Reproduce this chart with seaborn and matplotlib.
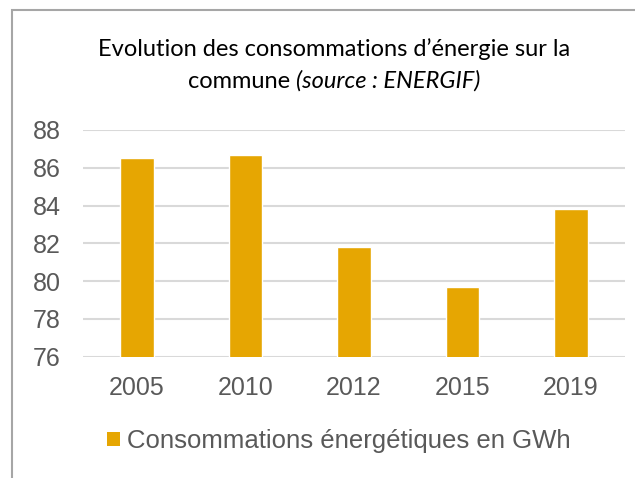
import matplotlib
matplotlib.use("Agg")
import matplotlib.pyplot as plt
from matplotlib.patches import Rectangle, Patch
import seaborn as sns
import pandas as pd

years = ["2005", "2010", "2012", "2015", "2019"]
consumption = [86.5, 86.7, 81.8, 79.7, 83.8]
y_ticks = [76, 78, 80, 82, 84, 86, 88]
series_label = "Consommations énergétiques en GWh"
title_line1 = "Evolution des consommations d’énergie sur la"
title_line2a = "commune"
title_line2b = "(source : ENERGIF)"

bar_color = "#E6A602"
text_gray = "#595959"
grid_gray = "#D9D9D9"

W, H = 635, 478

sns.set_theme(style="white")
plt.rcParams["font.family"] = ["Liberation Sans", "DejaVu Sans"]

df = pd.DataFrame({"year": years, "value": consumption})

fig = plt.figure(figsize=(W / 100, H / 100), dpi=100)
ax = fig.add_axes([82.75 / W, 1 - 356.7 / H, (625 - 82.75) / W, (356.7 - 130) / H])

sns.barplot(data=df, x="year", y="value", color=bar_color, width=0.31,
            saturation=1, ax=ax, zorder=3)

ax.set_ylim(76, 88)
ax.set_yticks(y_ticks)
ax.set_xlabel("")
ax.set_ylabel("")
for s in ax.spines.values():
    s.set_visible(False)
ax.tick_params(axis="both", length=0, labelsize=18, colors=text_gray)
ax.tick_params(axis="x", pad=14)
ax.tick_params(axis="y", pad=16)
for t in y_ticks:
    ax.axhline(t, color=grid_gray, lw=1.5, zorder=1)

# Chart frame (runs past the right and bottom edges)
fig.patches.append(Rectangle((12 / W, -0.1), 1.0, 1 - 10 / H + 0.1,
                             transform=fig.transFigure, fill=False,
                             edgecolor="#A6A6A6", lw=1.5))

# Two-line title, centred; second line mixes upright and italic text
title_font = ["Lato", "DejaVu Sans"]
cx = 334
fig.text(cx / W, 1 - 56 / H, title_line1, ha="center", va="baseline",
         fontsize=17, family=title_font, color="#000000")
t_a = fig.text(0, 1 - 88 / H, title_line2a, ha="left", va="baseline",
               fontsize=17, family=title_font, color="#000000")
t_b = fig.text(0, 1 - 88 / H, title_line2b, ha="left", va="baseline",
               fontsize=17, family=title_font, style="italic", color="#000000")
fig.canvas.draw()
renderer = fig.canvas.get_renderer()
wa = t_a.get_window_extent(renderer).width
wb = t_b.get_window_extent(renderer).width
gap = 5.5
x0 = cx - (wa + gap + wb) / 2
t_a.set_x(x0 / W)
t_b.set_x((x0 + wa + gap) / W)

handle = Patch(facecolor=bar_color, edgecolor="none")
fig.legend([handle], [series_label], loc="center left",
           bbox_to_anchor=(107 / W, 1 - 441 / H), frameon=False,
           fontsize=18.5, labelcolor=text_gray, handlelength=0.5,
           handleheight=0.5, handletextpad=0.28, borderaxespad=0,
           borderpad=0)

fig.savefig("out.png", dpi=100)
